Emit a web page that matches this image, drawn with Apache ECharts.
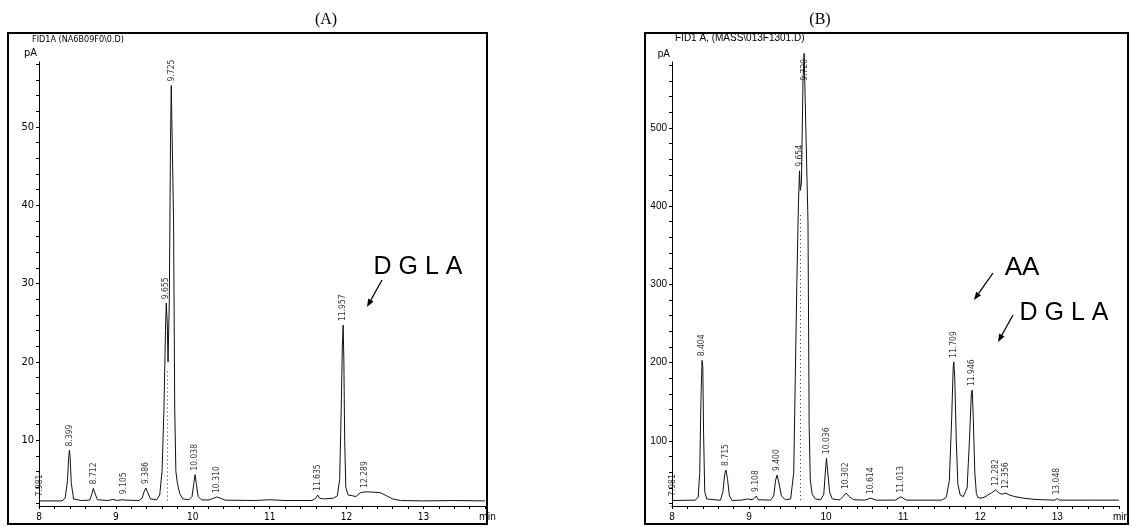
<!DOCTYPE html>
<html><head><meta charset="utf-8">
<script src="https://cdn.jsdelivr.net/npm/echarts/dist/echarts.min.js"></script>
<style>html,body{margin:0;padding:0;background:#fff}#c{width:1132px;height:527px}</style>
</head><body><div id="c"></div>
<script>
// ---------- Panel A data (retention time in min, signal in pA) ----------
const timeA = [8.00,8.30,8.34,8.37,8.385,8.395,8.405,8.42,8.45,8.55,8.66,8.69,8.707,8.725,8.76,8.90,8.96,9.02,9.08,9.105,9.13,9.30,9.34,9.37,9.389,9.41,9.45,9.53,9.57,9.60,9.625,9.645,9.655,9.668,9.678,9.695,9.71,9.72,9.735,9.75,9.765,9.78,9.80,9.83,9.87,9.95,9.99,10.015,10.03,10.045,10.07,10.11,10.20,10.26,10.31,10.36,10.42,10.80,11.00,11.20,11.55,11.60,11.624,11.65,11.70,11.83,11.88,11.91,11.93,11.945,11.955,11.965,11.975,11.99,12.02,12.08,12.12,12.18,12.24,12.30,12.44,12.52,12.60,12.70,13.00,13.40,13.80];
const signalA = [2.25,2.25,2.6,4.8,7.6,8.7,7.8,4.5,2.5,2.3,2.35,3.2,3.85,3.3,2.4,2.3,2.45,2.3,2.4,2.6,2.35,2.3,2.6,3.5,3.9,3.4,2.5,2.4,3.0,6,14,24,27.5,25,20,28,48,55.3,55.3,38,14,6,4.5,3.2,2.5,2.4,2.8,4.6,5.6,4.5,2.8,2.4,2.35,2.55,2.75,2.6,2.35,2.3,2.4,2.3,2.3,2.6,3.0,2.6,2.5,2.6,2.9,5,14,22,24.7,20,10,4,3.0,2.9,2.8,3.3,3.4,3.4,3.3,2.9,2.5,2.3,2.25,2.3,2.25];
const peakTimesA = [8.01,8.395,8.707,9.105,9.389,9.655,9.728,10.03,10.31,11.624,11.955,12.24];
const peakHeightsA = [2.3,8.7,3.85,2.6,3.9,27.5,55.3,5.6,2.75,3.0,24.7,3.4];
const peakNamesA = ['7.981','8.399','8.712','9.105','9.386','9.655','9.725','10.038','10.310','11.635','11.957','12.289'];
const dropA = [9.667, 2.3, 19];
const xLabelsA = [8,9,10,11,12,13];
const yLabelsA = [10,20,30,40,50];

// ---------- Panel B data ----------
const timeB = [8.00,8.30,8.34,8.36,8.375,8.39,8.40,8.41,8.425,8.45,8.60,8.63,8.66,8.685,8.70,8.72,8.745,8.78,8.90,8.98,9.04,9.07,9.094,9.12,9.28,9.32,9.345,9.363,9.385,9.42,9.47,9.54,9.58,9.60,9.62,9.64,9.655,9.665,9.68,9.70,9.715,9.74,9.765,9.78,9.795,9.82,9.86,9.93,9.97,9.99,10.005,10.02,10.045,10.08,10.15,10.18,10.22,10.26,10.30,10.36,10.50,10.58,10.65,10.90,10.97,11.04,11.50,11.56,11.60,11.63,11.65,11.658,11.67,11.69,11.71,11.74,11.78,11.83,11.86,11.885,11.897,11.91,11.93,11.95,11.97,12.00,12.05,12.10,12.15,12.20,12.24,12.28,12.33,12.38,12.45,12.56,12.70,12.82,12.97,13.00,13.03,13.50,13.80];
const signalB = [24,24.5,28,60,150,203,195,110,35,26,24.5,24.5,35,58,63,52,30,24,24.5,26,25,27,29.7,25,24.5,30,50,56.5,48,30,25,26,60,180,300,400,445,420,430,560,595,595,380,120,50,32,26,25,32,60,78,62,35,26,25,25,29,33.5,29,25,24.5,27,24.5,24.5,28.8,24.5,24.5,28,50,130,195,201,180,100,45,31,29,40,100,160,165,130,60,33,28,27,28,31,34,37.5,34,32,33.5,31,29,27,25.5,25,24.5,26.5,24.5,24.5,24.5];
const peakTimesB = [8.01,8.39,8.70,9.094,9.363,9.655,9.725,10.005,10.26,10.58,10.97,11.658,11.897,12.20,12.33,13.00];
const peakHeightsB = [24.5,203,63,29.7,56.5,445,555,78,33.5,27,28.8,201,165,37.5,33.5,26.5];
const peakNamesB = ['7.981','8.404','8.715','9.108','9.400','9.654','9.720','10.036','10.302','10.614','11.013','11.709','11.946','12.282','12.356','13.048'];
const dropB = [9.667, 24.5, 390];
const xLabelsB = [8,9,10,11,12,13];
const yLabelsB = [100,200,300,400,500];

const narrow = "'Liberation Sans Narrow','DejaVu Sans Condensed','Arial Narrow',sans-serif";
const sans = "'Liberation Sans',Arial,sans-serif";

function ticks(a, b, step){ const r=[]; for(let v=a; v<=b+1e-9; v+=step) r.push(Math.round(v*1000)/1000); return r; }

function xAxis(gi, labels, font, fs){
  return {type:'value', gridIndex:gi, min:8, max:13.8,
    axisLine:{show:true, lineStyle:{color:'#000', width:1.2}},
    axisTick:{show:true, customValues:ticks(8,13.8,0.2), length:3, lineStyle:{color:'#000'}},
    axisLabel:{customValues:labels, color:'#000', fontFamily:font, fontSize:fs, margin:6},
    splitLine:{show:false},
    name:'min', nameLocation:'end', nameGap:-6,
    nameTextStyle:{color:'#000', fontFamily:font, fontSize:fs, align:'left', verticalAlign:'top', padding:[6,0,0,0]}};
}
function yAxis(gi, min, max, labels, step, font, fs){
  return {type:'value', gridIndex:gi, min:min, max:max,
    axisLine:{show:true, lineStyle:{color:'#000', width:1}},
    axisTick:{show:true, customValues:ticks(Math.ceil(min/step)*step, max, step), length:3, lineStyle:{color:'#000'}},
    axisLabel:{customValues:labels, color:'#000', fontFamily:font, fontSize:fs, margin:5},
    splitLine:{show:false},
    name:'pA', nameLocation:'end', nameGap:3,
    nameTextStyle:{color:'#000', fontFamily:font, fontSize:fs, align:'right', padding:[0,2,0,0]}};
}
function trace(gi, t, s, drop, clip){
  return {type:'line', xAxisIndex:gi, yAxisIndex:gi, data:t.map((x,i)=>[x,s[i]]),
    showSymbol:false, symbol:'none', clip:clip, lineStyle:{color:'#111', width:1},
    markLine:{silent:true, symbol:['none','none'], label:{show:false},
      lineStyle:{color:'#333', type:[1,3], width:1},
      data:[[{coord:[drop[0],drop[1]]},{coord:[drop[0],drop[2]]}]]}};
}
function peakLabels(gi, t, h, n){
  return {type:'scatter', xAxisIndex:gi, yAxisIndex:gi, clip:false, symbolSize:0,
    data:t.map((x,i)=>({value:[x,h[i]], name:n[i]})),
    label:{show:true, position:'top', distance:4, rotate:90, align:'left', verticalAlign:'middle',
      formatter:p=>p.name, fontFamily:narrow, fontSize:8.5, color:'#000'}};
}
function arrow(x1,y1,x2,y2){
  const a=Math.atan2(y2-y1,x2-x1), L=8, W=3;
  const bx=x2-L*Math.cos(a), by=y2-L*Math.sin(a);
  return [
    {type:'line', shape:{x1,y1,x2:bx,y2:by}, style:{stroke:'#000', lineWidth:1.3}},
    {type:'polygon', shape:{points:[[x2,y2],[bx+W*Math.sin(a),by-W*Math.cos(a)],[bx-W*Math.sin(a),by+W*Math.cos(a)]]}, style:{fill:'#000'}}
  ];
}

const chart = echarts.init(document.getElementById('c'), null, {renderer:'canvas'});
chart.setOption({
  animation:false,
  backgroundColor:'#fff',
  grid:[{left:39, top:62, right:647, bottom:21},{left:672, top:62, right:7, bottom:21}],
  xAxis:[xAxis(0, xLabelsA, narrow, 10), xAxis(1, xLabelsB, sans, 10)],
  yAxis:[yAxis(0, 1.6, 58.3, yLabelsA, 2, narrow, 11), yAxis(1, 17, 584, yLabelsB, 20, sans, 10)],
  series:[trace(0,timeA,signalA,dropA,true), trace(1,timeB,signalB,dropB,false),
          peakLabels(0,peakTimesA,peakHeightsA,peakNamesA), peakLabels(1,peakTimesB,peakHeightsB,peakNamesB)],
  graphic:[
    {type:'rect', shape:{x:8,y:33,width:479,height:491}, style:{fill:'none', stroke:'#000', lineWidth:2}},
    {type:'rect', shape:{x:645,y:33,width:483,height:491}, style:{fill:'none', stroke:'#000', lineWidth:2}},
    {type:'text', x:326, y:20, style:{text:'(A)', fontFamily:"'Liberation Serif','Times New Roman',serif", fontSize:16, fill:'#000', align:'center', verticalAlign:'middle'}},
    {type:'text', x:820, y:20, style:{text:'(B)', fontFamily:"'Liberation Serif','Times New Roman',serif", fontSize:16, fill:'#000', align:'center', verticalAlign:'middle'}},
    {type:'text', x:32, y:40, style:{text:'FID1A (NA6B09F0\\0.D)', fontFamily:narrow, fontSize:9, fill:'#000', align:'left', verticalAlign:'middle'}},
    {type:'text', x:675, y:38, style:{text:'FID1 A, (MASS\\013F1301.D)', fontFamily:sans, fontSize:10, fill:'#000', align:'left', verticalAlign:'middle'}},
    {type:'text', x:418, y:267, style:{text:'D G L A', fontFamily:sans, fontSize:25, fill:'#000', align:'center', verticalAlign:'middle'}},
    {type:'text', x:1022, y:268, style:{text:'AA', fontFamily:sans, fontSize:26, fill:'#000', align:'center', verticalAlign:'middle'}},
    {type:'text', x:1064, y:313, style:{text:'D G L A', fontFamily:sans, fontSize:25, fill:'#000', align:'center', verticalAlign:'middle'}},
    ...arrow(382,280,367,307), ...arrow(993,273,974,300), ...arrow(1013,315,998,342)
  ]
});
</script></body></html>
